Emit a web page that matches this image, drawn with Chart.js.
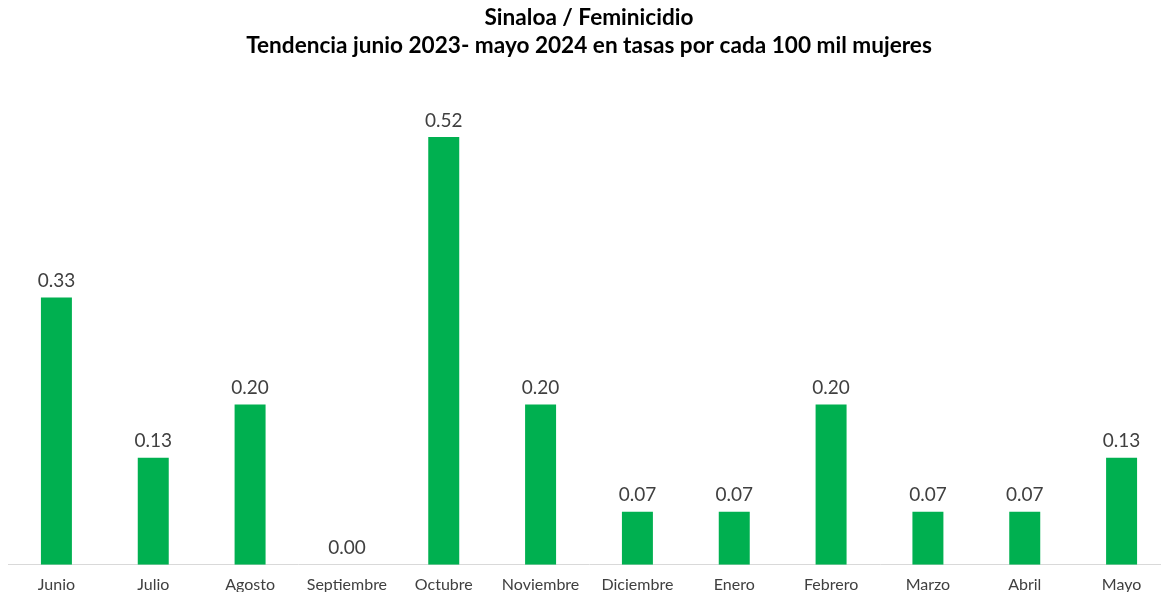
<!DOCTYPE html>
<html>
<head>
<meta charset="utf-8">
<script src="https://cdn.jsdelivr.net/npm/chart.js@4/dist/chart.umd.min.js"></script>
<style>
html,body{margin:0;padding:0;background:#fff;overflow:hidden;}
#wrap{position:relative;width:1170px;height:608px;}
</style>
</head>
<body>
<div id="wrap"><canvas id="c"></canvas></div>
<script>
const categories = ["Junio","Julio","Agosto","Septiembre","Octubre","Noviembre","Diciembre","Enero","Febrero","Marzo","Abril","Mayo"];
const tasas = [0.327,0.131,0.196,0,0.523,0.196,0.065,0.065,0.196,0.065,0.065,0.131];
const titleLines = ["Sinaloa / Feminicidio","Tendencia junio 2023- mayo 2024 en tasas por cada 100 mil mujeres"];

const labelPlugin = {
  id:'barLabels',
  afterDatasetsDraw(chart){
    const ctx = chart.ctx;
    const meta = chart.getDatasetMeta(0);
    ctx.save();
    ctx.font = '19px "Lato", "DejaVu Sans", sans-serif';
    ctx.fillStyle = '#404040';
    ctx.textAlign = 'center';
    ctx.textBaseline = 'bottom';
    meta.data.forEach((bar,i)=>{
      ctx.fillText(tasas[i].toFixed(2), bar.x, bar.y - 7);
    });
    ctx.restore();
  }
};

new Chart(document.getElementById('c'),{
  type:'bar',
  data:{labels:categories,datasets:[{data:tasas,backgroundColor:'#00b050',borderWidth:0,barPercentage:0.32,categoryPercentage:1.0}]},
  options:{
    responsive:true,maintainAspectRatio:false,animation:false,
    layout:{padding:{left:8,right:0,top:4,bottom:4}},
    plugins:{
      legend:{display:false},tooltip:{enabled:false},
      title:{display:true,text:titleLines,color:'#000',font:{family:'Lato',size:22.6,weight:'bold',lineHeight:1.24},padding:{top:0,bottom:10}}
    },
    scales:{
      x:{grid:{display:false,drawTicks:false},border:{display:true,color:'#d9d9d9',width:1},
         ticks:{color:'#404040',font:{family:'Lato',size:16},padding:10,maxRotation:0,autoSkip:false}},
      y:{display:false,min:0,max:0.605}
    }
  },
  plugins:[labelPlugin]
});
</script>
</body>
</html>
